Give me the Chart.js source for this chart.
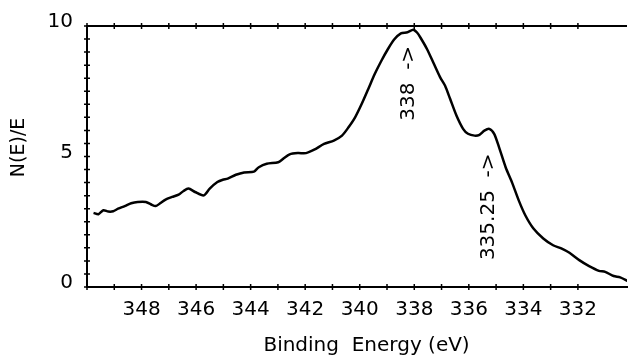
<!DOCTYPE html>
<html>
<head>
<meta charset="utf-8">
<script src="https://cdn.jsdelivr.net/npm/chart.js@4/dist/chart.umd.min.js"></script>
<style>
  html, body { margin: 0; padding: 0; background: #fff; }
  #wrap { width: 638px; height: 358px; position: relative; }
</style>
</head>
<body>
<div id="wrap"><canvas id="c"></canvas></div>
<script>
// ---- data ----
const energy = [
  349.76, 349.58, 349.40, 349.22, 349.04, 348.86, 348.62, 348.38, 348.14, 347.84,
  347.66, 347.48, 347.30, 347.12, 346.88, 346.64, 346.46, 346.28, 346.04, 345.72,
  345.50, 345.22, 345.02, 344.84, 344.54, 344.24, 343.88, 343.70, 343.41, 342.99,
  342.81, 342.57, 342.27, 341.97, 341.67, 341.31, 340.95, 340.65, 340.41, 340.17,
  339.93, 339.69, 339.45, 339.21, 338.97, 338.73, 338.49, 338.25, 338.04, 337.90,
  337.77, 337.53, 337.29, 337.05, 336.87, 336.69, 336.45, 336.21, 336.03, 335.79,
  335.61, 335.43, 335.25, 335.07, 334.89, 334.65, 334.41, 334.17, 333.93, 333.63,
  333.27, 332.91, 332.61, 332.31, 331.95, 331.59, 331.23, 331.00, 330.69, 330.45,
  330.18
];
const intensity = [
  2.84, 2.79, 2.94, 2.89, 2.90, 3.00, 3.10, 3.21, 3.26, 3.26,
  3.17, 3.10, 3.22, 3.35, 3.45, 3.54, 3.68, 3.77, 3.64, 3.51,
  3.77, 4.02, 4.11, 4.15, 4.30, 4.39, 4.42, 4.59, 4.72, 4.78,
  4.91, 5.08, 5.13, 5.13, 5.26, 5.48, 5.61, 5.80, 6.12, 6.50,
  7.01, 7.58, 8.16, 8.66, 9.11, 9.49, 9.72, 9.76, 9.86, 9.75,
  9.55, 9.11, 8.57, 8.03, 7.71, 7.22, 6.56, 6.06, 5.87, 5.80,
  5.83, 5.99, 6.06, 5.87, 5.35, 4.59, 3.99, 3.32, 2.75, 2.24,
  1.86, 1.60, 1.48, 1.31, 1.03, 0.80, 0.62, 0.58, 0.42, 0.37,
  0.23
];
const xTickLabels = [348, 346, 344, 342, 340, 338, 336, 334, 332];
const yTickLabels = [0, 5, 10];
const xTitle = '   Binding  Energy (eV)';
const yTitle = '   N(E)/E';
const noteTexts = ['338  ->', '335.25  ->'];
const noteEnergy = [338.19, 335.25];
const noteLevel = [6.37, 1.03];

// ---- chart ----
const FONT = 'DejaVu Sans';
const axisMarks = {
  id: 'axisMarks',
  afterDraw(chart) {
    const { ctx, chartArea: a, scales: { x, y } } = chart;
    ctx.save();
    ctx.strokeStyle = '#000';
    ctx.lineWidth = 2;
    ctx.beginPath();
    ctx.moveTo(a.left - 1, a.top);
    ctx.lineTo(a.right, a.top);
    ctx.stroke();
    ctx.lineWidth = 1.5;
    ctx.beginPath();
    x.ticks.forEach(t => {
      if (!Number.isInteger(t.value)) return;
      const px = x.getPixelForValue(t.value);
      [a.top, a.bottom].forEach(py => { ctx.moveTo(px, py - 3); ctx.lineTo(px, py + 3); });
    });
    y.ticks.forEach(t => {
      const py = y.getPixelForValue(t.value);
      ctx.moveTo(a.left - 3, py); ctx.lineTo(a.left + 3, py);
    });
    ctx.stroke();
    // annotations
    ctx.fillStyle = '#000';
    ctx.font = '20px "' + FONT + '"';
    ctx.textAlign = 'left';
    ctx.textBaseline = 'middle';
    noteTexts.forEach((txt, i) => {
      const px = x.getPixelForValue(noteEnergy[i]);
      const py = y.getPixelForValue(noteLevel[i]);
      ctx.save();
      ctx.translate(px, py);
      ctx.rotate(-Math.PI / 2);
      ctx.fillText(txt, 0, 0);
      ctx.restore();
    });
    ctx.restore();
  }
};

new Chart(document.getElementById('c'), {
  type: 'line',
  data: {
    datasets: [{
      data: energy.map((e, i) => ({ x: e, y: intensity[i] })),
      borderColor: '#000',
      borderWidth: 2.5,
      pointRadius: 0,
      tension: 0.25,
      fill: false
    }]
  },
  options: {
    responsive: true,
    maintainAspectRatio: false,
    animation: false,
    layout: { padding: { top: 25, right: 0, left: 0, bottom: 0 } },
    plugins: { legend: { display: false }, tooltip: { enabled: false } },
    scales: {
      x: {
        type: 'linear',
        reverse: true,
        min: 330.2,
        max: 350,
        afterFit(s) { s.height = 71; },
        border: { display: true, color: '#000', width: 2 },
        grid: { display: true, drawOnChartArea: false, drawTicks: false, color: 'rgba(0,0,0,0)' },
        ticks: {
          stepSize: 1,
          autoSkip: false,
          maxRotation: 0,
          padding: 11,
          color: '#000',
          font: { family: FONT, size: 20 },
          callback: v => xTickLabels.includes(v) ? String(v) : ''
        },
        title: {
          display: true,
          text: xTitle,
          color: '#000',
          font: { family: FONT, size: 20 },
          padding: { top: 0, bottom: 0 }
        }
      },
      y: {
        min: 0,
        max: 10,
        afterFit(s) { s.width = 87; },
        border: { display: true, color: '#000', width: 2 },
        grid: { display: true, drawOnChartArea: false, drawTicks: false, color: 'rgba(0,0,0,0)' },
        ticks: {
          stepSize: 0.5,
          autoSkip: false,
          padding: 14,
          labelOffset: -4,
          color: '#000',
          font: { family: FONT, size: 20 },
          callback: v => yTickLabels.includes(v) ? String(v) : ''
        },
        title: {
          display: true,
          text: yTitle,
          color: '#000',
          font: { family: FONT, size: 19 },
          padding: { top: 8, bottom: 8 }
        }
      }
    }
  },
  plugins: [axisMarks]
});
</script>
</body>
</html>
